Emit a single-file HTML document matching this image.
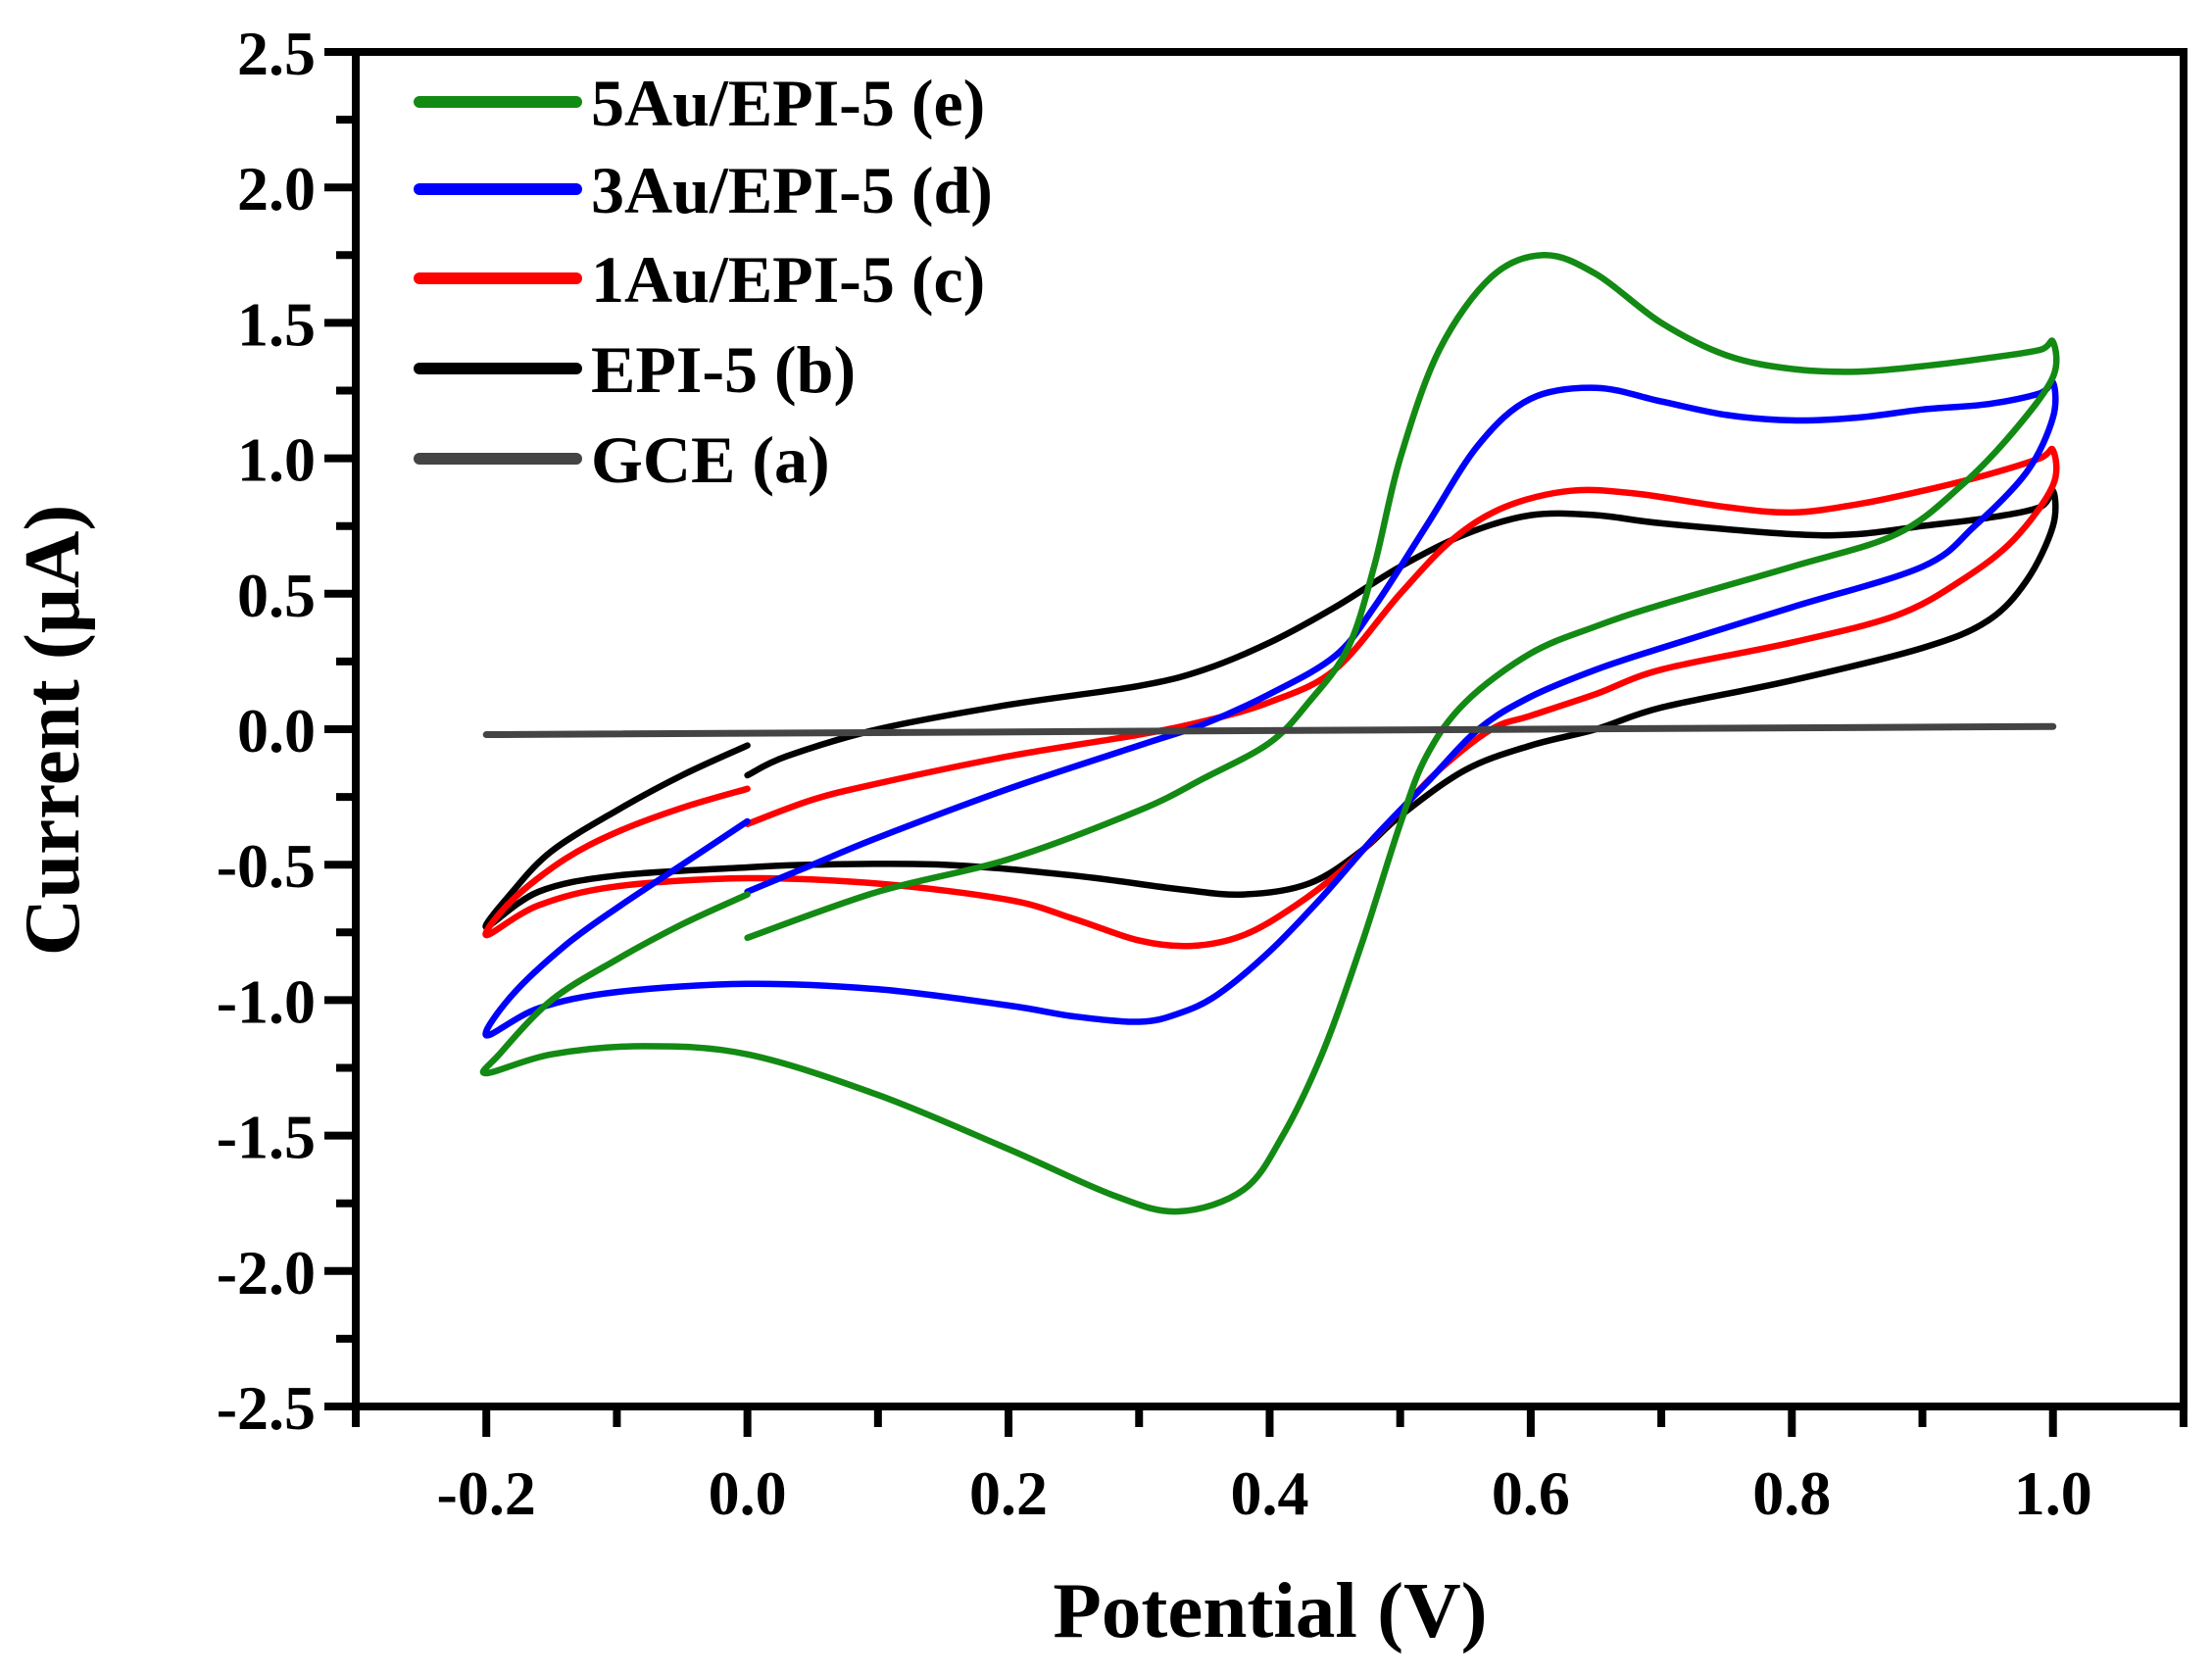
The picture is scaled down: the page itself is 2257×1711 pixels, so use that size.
<!DOCTYPE html>
<html><head><meta charset="utf-8"><style>
html,body{margin:0;padding:0;background:#fff;}
svg{display:block;}
text{font-family:"Liberation Serif",serif;font-weight:bold;fill:#000;}
</style></head><body>
<svg id="s" width="2257" height="1711" viewBox="0 0 2257 1711" xmlns="http://www.w3.org/2000/svg">
<g id="curves" fill="none" stroke-linejoin="round" stroke-linecap="round"></g>
<g id="axes" stroke="#000" stroke-width="8" stroke-linecap="square" fill="none"></g>
<g id="labels" font-size="64"></g>
<g id="legend"></g>
<text x="1296" y="1670" font-size="81" text-anchor="middle">Potential (V)</text>
<text transform="translate(80,745) rotate(-90)" font-size="81" text-anchor="middle">Current (μA)</text>
</svg>
<script>
const NS="http://www.w3.org/2000/svg";
const X=v=>363+(v+0.3)*1332.1, Y=i=>53+(2.5-i)*276.4;
function el(p,t,a,txt){const e=document.createElementNS(NS,t);for(const k in a)e.setAttribute(k,a[k]);if(txt!==undefined)e.textContent=txt;p.appendChild(e);return e;}
const ax=document.getElementById('axes'),lb=document.getElementById('labels'),cv=document.getElementById('curves'),lg=document.getElementById('legend');
el(ax,'rect',{x:363,y:53,width:1865,height:1382});
for(let k=0;k<=20;k++){const i=-2.5+k*0.25,y=Y(i);const maj=k%2==0;el(ax,'line',{x1:maj?335:347,y1:y,x2:363,y2:y});
 if(maj)el(lb,'text',{x:322,y:y+23,'text-anchor':'end'},(i<0?'-':'')+Math.abs(i).toFixed(1));}
for(let k=0;k<=14;k++){const v=-0.3+k*0.1,x=X(v);const maj=(k%2==1);el(ax,'line',{x1:x,y1:1435,x2:x,y2:maj?1462:1452});
 if(maj)el(lb,'text',{x:x,y:1545,'text-anchor':'middle'},(v<-0.01?'-':'')+Math.abs(v).toFixed(1));}
function path(pts){const P=pts.map(p=>[X(p[0]),Y(p[1])]);let d='M'+P[0][0].toFixed(1)+','+P[0][1].toFixed(1);
 for(let i=0;i<P.length-1;i++){const p0=P[Math.max(0,i-1)],p1=P[i],p2=P[i+1],p3=P[Math.min(P.length-1,i+2)];
 const c1=[p1[0]+(p2[0]-p0[0])/6,p1[1]+(p2[1]-p0[1])/6],c2=[p2[0]-(p3[0]-p1[0])/6,p2[1]-(p3[1]-p1[1])/6];
 d+=' C'+c1.map(n=>n.toFixed(1))+' '+c2.map(n=>n.toFixed(1))+' '+p2.map(n=>n.toFixed(1));}return d;}
const black=[[0,-0.17],[0.03,-0.1],[0.1,0.0],[0.2,0.09],[0.3,0.16],[0.35,0.22],[0.4,0.32],[0.45,0.45],[0.5,0.6],[0.55,0.72],[0.6,0.79],[0.65,0.79],[0.7,0.76],[0.8,0.72],[0.85,0.72],[0.9,0.75],[0.95,0.78],[0.99,0.82],[1.0,0.88],[1.0,0.75],[0.98,0.55],[0.95,0.4],[0.9,0.3],[0.8,0.18],[0.7,0.08],[0.65,0.0],[0.6,-0.06],[0.55,-0.15],[0.5,-0.32],[0.47,-0.45],[0.43,-0.57],[0.38,-0.61],[0.33,-0.59],[0.25,-0.54],[0.15,-0.5],[0.05,-0.5],[0,-0.51],[-0.1,-0.54],[-0.16,-0.6],[-0.2,-0.73],[-0.18,-0.6],[-0.15,-0.45],[-0.1,-0.3],[-0.05,-0.17],[0,-0.06]];
const red=[[0,-0.35],[0.05,-0.26],[0.1,-0.2],[0.2,-0.1],[0.3,-0.02],[0.35,0.03],[0.4,0.1],[0.45,0.22],[0.5,0.5],[0.54,0.7],[0.58,0.82],[0.63,0.88],[0.68,0.87],[0.75,0.82],[0.8,0.8],[0.85,0.83],[0.9,0.88],[0.95,0.94],[0.99,1.0],[1.0,1.03],[1.0,0.9],[0.97,0.7],[0.93,0.55],[0.88,0.42],[0.8,0.32],[0.7,0.22],[0.65,0.13],[0.6,0.05],[0.57,0.0],[0.53,-0.15],[0.5,-0.3],[0.46,-0.5],[0.42,-0.65],[0.38,-0.76],[0.34,-0.8],[0.3,-0.78],[0.25,-0.7],[0.2,-0.63],[0.1,-0.57],[0,-0.55],[-0.1,-0.58],[-0.16,-0.65],[-0.2,-0.76],[-0.18,-0.63],[-0.14,-0.48],[-0.1,-0.38],[-0.05,-0.29],[0,-0.22]];
const blue=[[0,-0.6],[0.05,-0.5],[0.1,-0.4],[0.2,-0.22],[0.3,-0.06],[0.35,0.02],[0.4,0.13],[0.45,0.27],[0.48,0.45],[0.52,0.75],[0.56,1.05],[0.6,1.22],[0.65,1.26],[0.7,1.21],[0.75,1.16],[0.8,1.14],[0.85,1.15],[0.9,1.18],[0.95,1.2],[0.99,1.24],[1.0,1.28],[1.0,1.15],[0.98,0.95],[0.94,0.75],[0.9,0.6],[0.8,0.45],[0.7,0.3],[0.65,0.22],[0.6,0.12],[0.56,0.0],[0.52,-0.2],[0.48,-0.4],[0.44,-0.62],[0.4,-0.82],[0.36,-0.98],[0.33,-1.05],[0.3,-1.08],[0.25,-1.06],[0.2,-1.02],[0.1,-0.96],[0.0,-0.94],[-0.1,-0.97],[-0.16,-1.03],[-0.2,-1.13],[-0.18,-0.98],[-0.14,-0.8],[-0.1,-0.66],[-0.05,-0.5],[0,-0.34]];
const green=[[0,-0.77],[0.1,-0.6],[0.2,-0.48],[0.3,-0.3],[0.35,-0.18],[0.4,-0.05],[0.43,0.1],[0.46,0.3],[0.48,0.6],[0.5,1.0],[0.53,1.4],[0.57,1.67],[0.61,1.75],[0.65,1.68],[0.7,1.5],[0.75,1.38],[0.8,1.33],[0.85,1.32],[0.9,1.34],[0.95,1.37],[0.99,1.4],[1.0,1.43],[1.0,1.3],[0.97,1.1],[0.93,0.9],[0.88,0.72],[0.8,0.6],[0.7,0.46],[0.65,0.38],[0.6,0.28],[0.55,0.1],[0.52,-0.1],[0.5,-0.35],[0.47,-0.8],[0.44,-1.2],[0.41,-1.5],[0.38,-1.7],[0.33,-1.78],[0.28,-1.72],[0.2,-1.55],[0.1,-1.35],[0.0,-1.2],[-0.08,-1.17],[-0.15,-1.2],[-0.2,-1.27],[-0.19,-1.2],[-0.15,-1.0],[-0.1,-0.85],[-0.05,-0.72],[0,-0.61]];
[[black,'#000'],[red,'#ff0000'],[blue,'#0000ff'],[green,'#138a13']].forEach(([d,c])=>el(cv,'path',{d:path(d),stroke:c,'stroke-width':6.5}));
el(cv,'line',{x1:X(-0.2),y1:Y(-0.02),x2:X(1.0),y2:Y(0.01),stroke:'#444','stroke-width':7});
[['5Au/EPI-5 (e)','#138a13',104],['3Au/EPI-5 (d)','#0000ff',193],['1Au/EPI-5 (c)','#ff0000',284],['EPI-5 (b)','#000',376],['GCE (a)','#444',468]].forEach(([t,c,y])=>{
 el(lg,'line',{x1:428,y1:y,x2:588,y2:y,stroke:c,'stroke-width':12,'stroke-linecap':'round'});
 el(lg,'text',{x:603,y:y+24,'font-size':68},t);});
</script>
</body></html>
